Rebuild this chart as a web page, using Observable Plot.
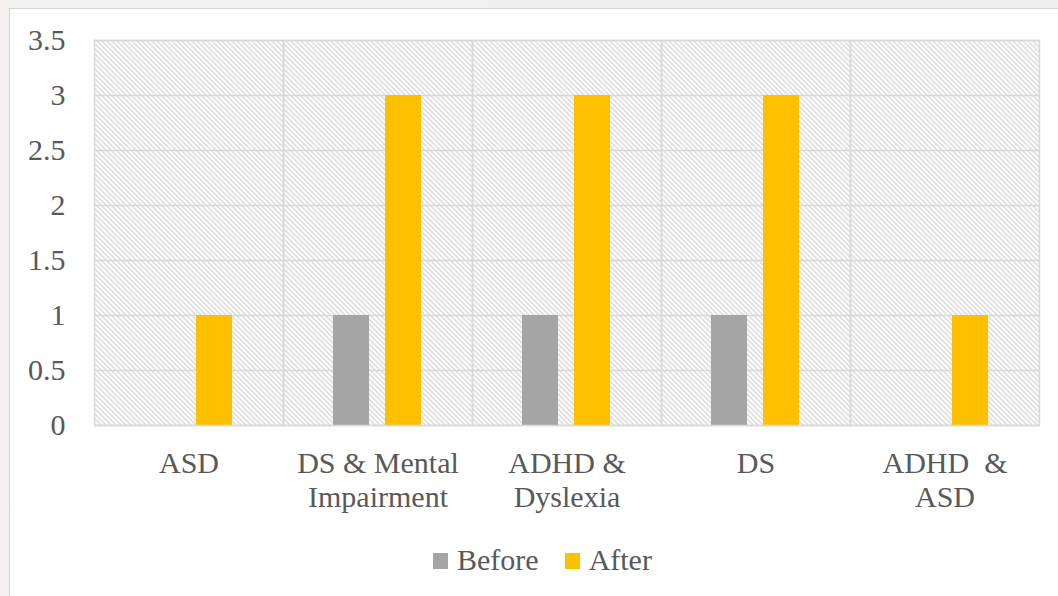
<!DOCTYPE html>
<html>
<head>
<meta charset="utf-8">
<script src="https://cdn.jsdelivr.net/npm/d3@7"></script>
<script src="https://cdn.jsdelivr.net/npm/@observablehq/plot@0.6"></script>
<style>
  html, body { margin: 0; padding: 0; }
  body { width: 1058px; height: 596px; overflow: hidden;
         background: linear-gradient(90deg, #f6eeee 0px, #f3f0f0 9px, #efefef 100%); }
  #page { position: relative; width: 1058px; height: 596px; }
  #card { position: absolute; left: 9px; top: 8px; right: 0; bottom: 0;
          background: #ffffff; border-left: 1.5px solid #d6d6d6; border-top: 1.5px solid #d6d6d6; }
  #chart { position: absolute; left: 0; top: 0; }
  #legend { position: absolute; left: 433px; top: 538px; height: 44px;
            display: flex; align-items: center;
            font-family: "Liberation Serif", "Times New Roman", serif;
            font-size: 30px; color: #595959; }
  .item { display: flex; align-items: center; margin-right: 26px; }
  .swatch { width: 15px; height: 16px; margin-right: 9px; margin-top: 1px; }
</style>
</head>
<body>
<div id="page">
  <div id="card"></div>
  <div id="chart"></div>
  <div id="legend"></div>
</div>
<script>
// Categories, their wrapped axis labels, and the two series
const categories = ["ASD", "DS & Mental Impairment", "ADHD & Dyslexia", "DS", "ADHD & ASD"];
const categoryLabels = ["ASD", "DS & Mental\nImpairment", "ADHD &\nDyslexia", "DS", "ADHD\u00a0 &\nASD"];
const seriesNames = ["Before", "After"];
const beforeValues = [0, 1, 1, 1, 0];
const afterValues = [1, 3, 3, 3, 1];
const yTicks = [0, 0.5, 1, 1.5, 2, 2.5, 3, 3.5];
const seriesColors = ["#a5a5a5", "#ffc000"];

// Long-format rows for the grouped bars
const rows = categories.flatMap((c, i) => [
  {category: c, series: "Before", value: beforeValues[i]},
  {category: c, series: "After", value: afterValues[i]}
]);

const grid = "#d9d9d9";
const textColor = "#595959";

const chart = Plot.plot({
  width: 1058,
  height: 520,
  marginLeft: 93,
  marginRight: 18,
  marginTop: 40,
  marginBottom: 95,
  style: {fontFamily: "'Liberation Serif', 'Times New Roman', serif", color: textColor, background: "transparent"},
  fx: {domain: categories, padding: 0, axis: null, label: null},
  x: {domain: seriesNames, paddingInner: 0.3, paddingOuter: 0.94, axis: null},
  y: {domain: [0, 3.5], axis: null},
  color: {domain: seriesNames, range: seriesColors},
  marks: [
    // hatched plot background in every category cell
    Plot.frame({fill: "url(#hatch)", stroke: null}),
    Plot.ruleY(yTicks, {stroke: grid, strokeWidth: 1.5}),
    Plot.barY(rows, {fx: "category", x: "series", y: "value", fill: "series"}),
    Plot.frame({stroke: grid, strokeWidth: 1.5}),
    Plot.axisY({ticks: yTicks, tickFormat: d => String(d), tickSize: 0, tickPadding: 29,
                fontSize: 30, anchor: "left", label: null}),
    Plot.text(categories, {fx: d => d, text: (d, i) => categoryLabels[i],
                           frameAnchor: "bottom", lineAnchor: "top", dy: 24,
                           fontSize: 30, lineHeight: 1.12, fill: textColor})
  ]
});

// Diagonal hatch pattern used by the plot background
const svg = d3.select(chart);
const defs = svg.insert("defs", ":first-child");
const pat = defs.append("pattern")
  .attr("id", "hatch")
  .attr("patternUnits", "userSpaceOnUse")
  .attr("width", 5).attr("height", 5);
pat.append("rect").attr("width", 5).attr("height", 5).attr("fill", "#ffffff");
pat.append("path")
  .attr("d", "M-1,-1L6,6M4,-1L6,1M-1,4L1,6")
  .attr("stroke", "#cacaca").attr("stroke-width", 1.1);

document.getElementById("chart").append(chart);

// Legend below the chart
const legend = d3.select("#legend");
seriesNames.forEach((name, i) => {
  const item = legend.append("div").attr("class", "item");
  item.append("div").attr("class", "swatch").style("background", seriesColors[i]);
  item.append("span").text(name);
});
</script>
</body>
</html>
